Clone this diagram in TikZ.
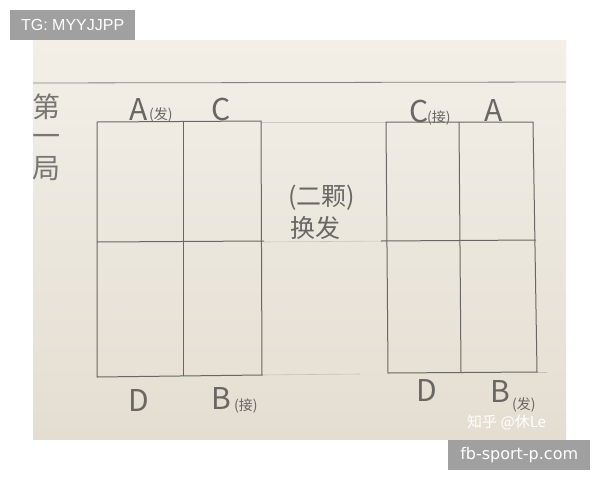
\documentclass[tikz,border=0pt]{standalone}
\usepackage{fontspec}
\setmainfont{Liberation Sans}
\newfontfamily\cjk{Noto Sans CJK SC}
\newfontfamily\dejavu{DejaVu Sans}
\definecolor{paperT}{RGB}{243,239,231}
\definecolor{paperB}{RGB}{228,222,210}
\definecolor{pencil}{RGB}{105,103,99}
\definecolor{tag}{RGB}{160,160,160}
\tikzset{
  court/.style={draw=pencil, line width=1pt},
  ruled/.style={draw=pencil, line width=0.6pt, opacity=0.25},
  big/.style={anchor=base west, inner sep=0, text=pencil, font=\cjk\fontsize{30}{30}\selectfont},
  small/.style={anchor=base west, inner sep=0, text=pencil, font=\cjk\fontsize{14}{14}\selectfont},
  mid/.style={anchor=base west, inner sep=0, text=pencil, font=\cjk\fontsize{25}{25}\selectfont},
  side/.style={anchor=base west, inner sep=0, text=pencil!90, font=\cjk\fontsize{28}{28}\selectfont},
  tagbox/.style={fill=tag, text=white, inner sep=0, anchor=north west}
}
\begin{document}
\begin{tikzpicture}[x=1pt,y=-1pt]
\useasboundingbox (0,0) rectangle (600,480);
\fill[white] (0,0) rectangle (600,480);
% paper photo
\shade[top color=paperT, bottom color=paperB] (33,40) rectangle (566,439);
% ruled lines
\draw[draw=pencil, line width=0.8pt, opacity=0.8] (33,83) -- (566,82);
\draw[ruled] (261,122) -- (386,122);
\draw[ruled] (264,242) -- (386,241);
\draw[ruled] (262,375) -- (360,374);
\draw[ruled] (537,372) -- (547,372);

% left court
\coordinate (Ltl) at (97,122);
\coordinate (Ltr) at (261,121);
\coordinate (Lbr) at (262,375);
\coordinate (Lbl) at (97,377);
\coordinate (Lmt) at (183,122);
\coordinate (Lmb) at (183,376);
\coordinate (Lml) at (97,242);
\coordinate (Lmr) at (264,241);
\draw[court] (Ltl) -- (Ltr) -- (Lbr) -- (Lbl) -- cycle;
\draw[court] (Lmt) -- (Lmb);
\draw[court] (Lml) -- (Lmr);

% right court
\coordinate (Rtl) at (386,122);
\coordinate (Rtr) at (533,122);
\coordinate (Rbr) at (537,372);
\coordinate (Rbl) at (388,373);
\coordinate (Rmt) at (459,122);
\coordinate (Rmb) at (461,372);
\coordinate (Rml) at (381,241);
\coordinate (Rmr) at (536,240);
\draw[court] (Rtl) -- (Rtr) -- (Rbr) -- (Rbl) -- cycle;
\draw[court] (Rmt) -- (Rmb);
\draw[court] (Rml) -- (Rmr);

% side title
\node[side] (di) at (32,117) {第};
\node[side] (yi) at (32,146) {一};
\node[side] (ju) at (32,178) {局};

% left court labels
\node[big] (LA) at (129,120) {A};
\node[small] (LAf) at (149,119) {(发)};
\node[big] (LC) at (211,120) {C};
\node[big] (LD) at (128,411) {D};
\node[big] (LB) at (211,409) {B};
\node[small] (LBj) at (234,410) {(接)};

% middle
\node[mid] (er) at (288,205) {(二颗)};
\node[mid] (huan) at (290,237) {换发};

% right court labels
\node[big] (RC) at (409,122) {C};
\node[small] (RCj) at (427,122) {(接)};
\node[big] (RA) at (484,121) {A};
\node[big] (RD) at (416,401) {D};
\node[big] (RB) at (490,402) {B};
\node[small] (RBf) at (512,409) {(发)};

% watermark
\node[anchor=base west, inner sep=0, text=white, font=\cjk\fontsize{15}{15}\selectfont] (wm) at (467,427) {知乎 @休Le};

% tag boxes
\node[tagbox, minimum width=125pt, minimum height=30pt, font=\fontsize{16}{16}\selectfont] (tg) at (10,10) {TG: MYYJJPP};
\node[tagbox, minimum width=142pt, minimum height=30pt, font=\dejavu\fontsize{16}{16}\selectfont] (fb) at (448,440) {fb-sport-p.com};
\end{tikzpicture}
\end{document}
